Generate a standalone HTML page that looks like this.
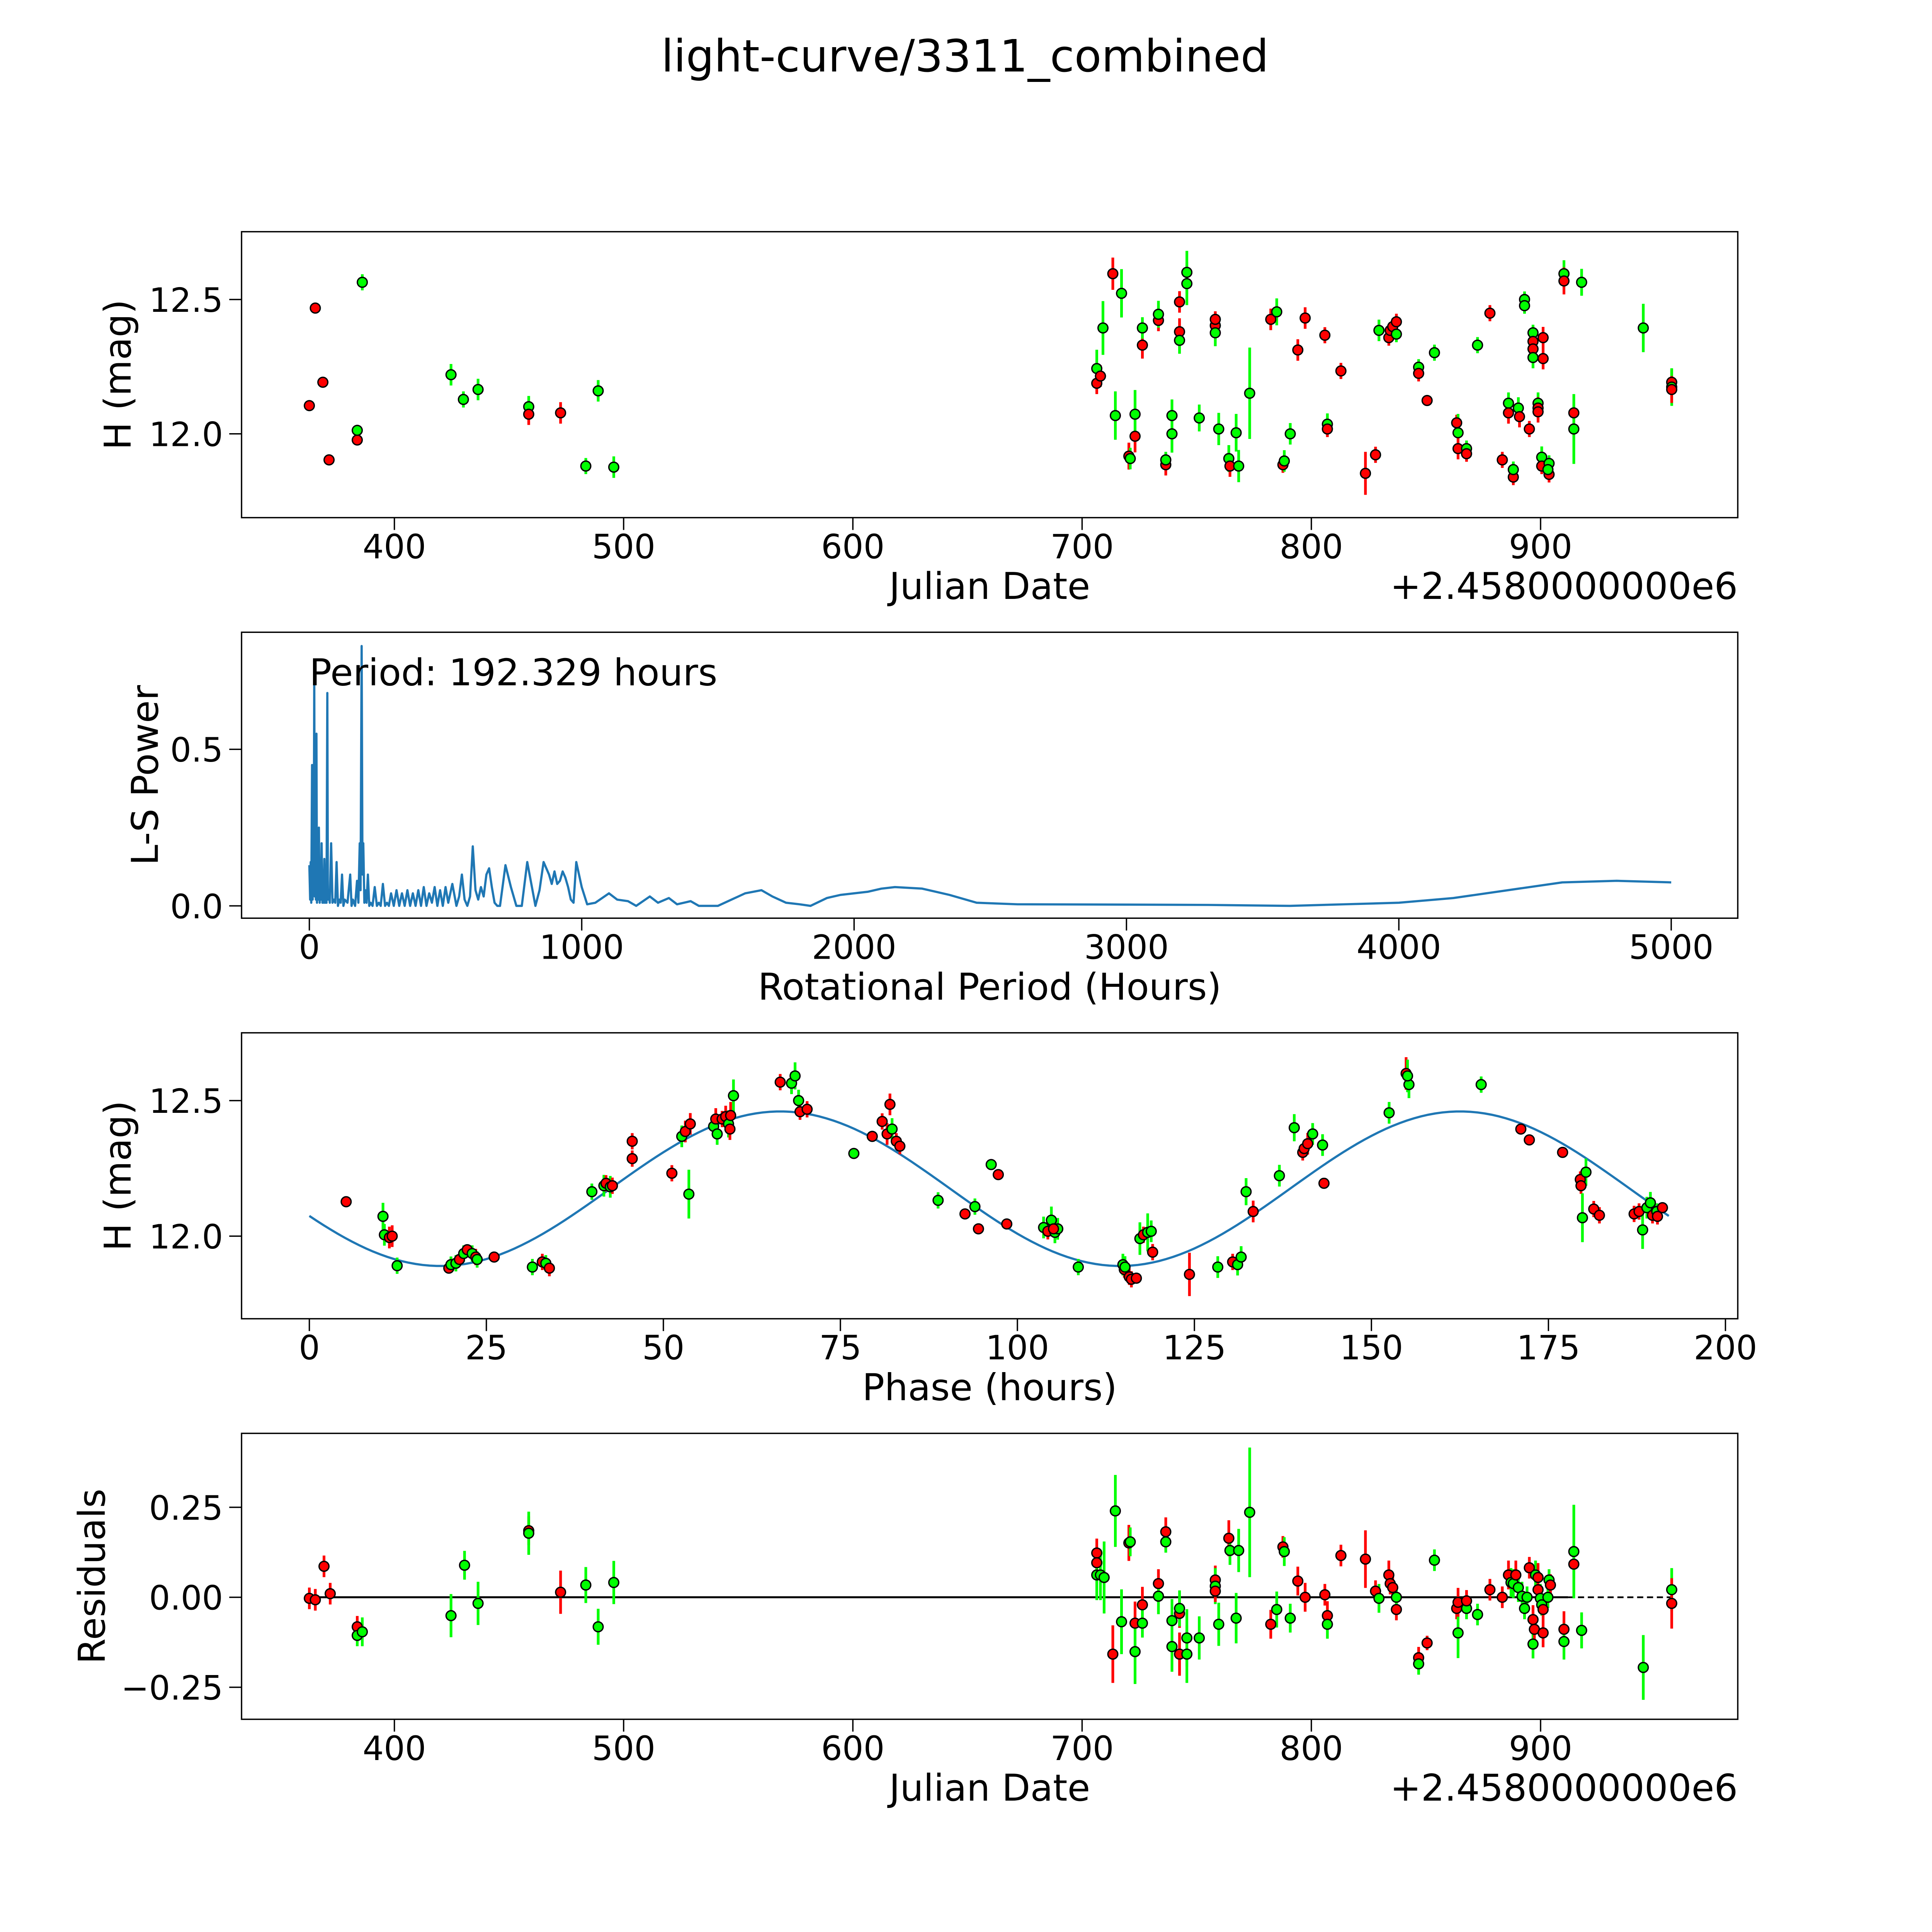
<!DOCTYPE html>
<html><head><meta charset="utf-8">
<style>
html,body{margin:0;padding:0;background:#fff;overflow:hidden;width:5400px;height:5400px;}
svg{display:block;overflow:hidden;font-family:"DejaVu Sans","Liberation Sans",sans-serif;}
</style></head>
<body>
<svg id="fig" width="5400" height="5400" viewBox="0 0 1693 1693" xmlns="http://www.w3.org/2000/svg">
<rect width="1693" height="1693" fill="#fff"/>
<text x="783" y="58" font-size="36" text-anchor="middle">light-curve/3311_combined</text>
<g id="layer"></g>
</svg>
<script>
// ---- Panel 1: light curve data ----
const lcJd = [362.9,365.5,368.8,371.5,383.8,383.8,386.0,424.7,430.1,436.5,458.6,458.6,472.5,483.5,488.9,495.7,
706.4,706.4,708.0,709.1,713.4,714.5,717.2,720.4,721.0,723.1,723.1,726.3,726.3,733.3,733.3,736.5,736.5,739.2,739.2,742.5,742.5,742.5,745.7,745.7,751.1,758.1,758.1,758.1,759.6,764.0,764.5,767.2,768.3,773.1,782.3,784.9,787.6,788.2,790.8,794.1,797.3,805.9,807.0,807.0,812.9,823.6,828.0,829.5,833.8,834.4,835.5,837.1,837.1,846.8,846.8,850.5,853.7,863.4,864.0,864.0,867.7,867.7,872.5,877.9,883.3,886.0,886.0,888.1,888.1,890.3,890.8,893.0,893.0,895.1,896.7,896.7,896.7,896.7,898.9,898.9,898.9,900.5,900.5,901.1,901.1,903.7,903.7,903.2,910.2,910.2,914.5,914.5,917.9,944.8,957.2,957.2,957.2];
const lcMag = [12.105,12.468,12.192,11.903,11.977,12.013,12.564,12.220,12.128,12.165,12.101,12.073,12.078,11.880,12.160,11.876,
12.243,12.188,12.215,12.394,12.596,12.068,12.523,11.917,11.908,11.991,12.073,12.330,12.394,12.422,12.445,11.885,11.903,12.068,12.000,12.491,12.380,12.348,12.601,12.559,12.059,12.403,12.376,12.426,12.018,11.908,11.880,12.004,11.880,12.151,12.426,12.454,11.885,11.899,12.000,12.312,12.431,12.367,12.036,12.018,12.234,11.853,11.922,12.385,12.358,12.385,12.399,12.417,12.371,12.248,12.225,12.124,12.302,12.041,12.004,11.945,11.945,11.926,12.330,12.449,11.903,12.114,12.078,11.839,11.867,12.096,12.064,12.500,12.477,12.018,12.376,12.344,12.316,12.284,12.114,12.096,12.082,11.913,11.880,12.358,12.280,11.890,11.849,11.867,12.596,12.569,12.078,12.018,12.564,12.394,12.192,12.174,12.165];
const lcErr = [.02,.02,.02,.02,.02,.02,.03,.04,.03,.04,.04,.04,.04,.03,.04,.04,
.07,.04,.04,.10,.06,.09,.09,.05,.04,.06,.09,.05,.04,.04,.05,.04,.03,.06,.07,.04,.05,.05,.08,.08,.05,.04,.05,.03,.06,.05,.04,.07,.06,.17,.04,.05,.03,.04,.04,.04,.04,.03,.04,.03,.03,.08,.03,.04,.03,.03,.03,.03,.03,.03,.03,.02,.03,.03,.07,.04,.03,.03,.03,.03,.03,.04,.04,.03,.03,.04,.04,.03,.03,.03,.03,.04,.04,.04,.04,.04,.04,.04,.03,.04,.04,.03,.03,.03,.05,.05,.04,.13,.05,.09,.05,.07,.05];
const lcColor = ["r","r","r","r","r","g","g","g","g","g","g","r","r","g","g","g",
"g","r","r","g","r","g","g","r","g","r","g","r","g","r","g","r","g","g","g","r","r","g","g","g","g","r","g","r","g","g","r","g","g","g","r","g","r","g","g","r","r","r","g","r","r","r","r","g","r","r","r","r","g","g","r","r","g","r","g","r","g","r","g","r","r","g","r","r","g","g","r","g","g","r","g","r","r","g","g","r","r","g","r","r","r","g","r","g","g","r","r","g","g","g","r","g","r"];

// ---- Panel 2: periodogram ----
const lsPeriod = [0,3,5,7,10,12,14,16,18,20,22,24,26,28,30,33,35,38,40,43,45,48,50,53,55,58,60,63,66,68,70,75,80,85,90,95,100,105,110,115,120,125,130,140,150,155,160,168,175,180,185,188,192,195,198,202,205,210,215,220,225,232,240,248,255,262,270,278,285,292,300,310,320,330,340,350,360,370,380,390,400,410,420,430,440,450,460,470,480,490,500,510,525,540,550,560,570,580,590,600,610,620,630,640,650,660,670,680,690,700,720,740,760,780,800,815,830,845,860,870,880,890,900,910,920,930,940,950,960,970,980,990,1000,1020,1050,1100,1130,1170,1200,1250,1280,1320,1350,1400,1430,1500,1550,1600,1660,1700,1750,1800,1840,1900,1950,2050,2100,2150,2250,2350,2450,2600,3000,3300,3600,3800,4000,4200,4400,4600,4800,5000];
const lsPower = [0.13,0.02,0.14,0.01,0.45,0.02,0.35,0.05,0.73,0.03,0.20,0.02,0.55,0.01,0.10,0.02,0.25,0.01,0.08,0.02,0.20,0.01,0.05,0.01,0.15,0.01,0.03,0.01,0.68,0.02,0.05,0.01,0.20,0.01,0.02,0.01,0.14,0.00,0.02,0.01,0.10,0.00,0.02,0.01,0.10,0.00,0.02,0.00,0.08,0.01,0.20,0.05,0.83,0.10,0.20,0.01,0.05,0.01,0.10,0.00,0.01,0.00,0.06,0.00,0.01,0.00,0.07,0.00,0.01,0.00,0.04,0.00,0.05,0.00,0.04,0.00,0.05,0.00,0.04,0.00,0.05,0.00,0.06,0.00,0.04,0.01,0.06,0.00,0.05,0.00,0.06,0.01,0.07,0.00,0.03,0.10,0.02,0.00,0.03,0.19,0.05,0.02,0.06,0.03,0.10,0.12,0.06,0.01,0.00,0.00,0.13,0.06,0.00,0.00,0.14,0.07,0.00,0.05,0.14,0.12,0.10,0.07,0.11,0.07,0.08,0.11,0.09,0.06,0.02,0.01,0.14,0.10,0.06,0.005,0.01,0.04,0.02,0.015,0.0,0.03,0.01,0.025,0.005,0.015,0.0,0.0,0.02,0.04,0.05,0.03,0.01,0.005,0.0,0.025,0.035,0.045,0.055,0.06,0.055,0.035,0.01,0.005,0.004,0.003,0.0,0.005,0.01,0.025,0.05,0.075,0.08,0.075];

// ---- Panel 3: phased data ----
const phHours = [5.2,10.4,10.6,11.3,11.7,12.4,19.7,20.0,20.7,21.2,21.8,22.3,23.0,23.5,23.7,26.1,31.5,32.9,33.4,33.9,39.9,41.6,41.9,42.5,42.8,45.6,45.6,51.2,52.6,53.1,53.8,53.6,57.1,57.4,57.6,58.3,58.8,59.2,59.4,59.5,59.9,66.5,68.1,68.6,69.1,69.3,70.3,76.9,79.5,80.9,81.6,82.0,82.3,82.9,83.4,88.8,92.6,94.0,94.5,96.3,97.3,98.5,103.7,104.3,104.8,105.3,105.7,105.1,108.6,114.9,115.1,115.2,115.8,116.1,116.8,117.3,117.8,118.4,118.9,119.1,124.3,128.3,130.4,131.1,131.6,132.3,133.3,137.0,139.1,140.3,140.5,141.0,141.7,143.1,143.3,152.5,154.9,155.3,155.1,165.5,171.1,172.3,177.0,179.5,179.6,179.8,180.3,181.4,182.2,187.1,187.8,188.3,188.9,189.4,189.7,190.3,191.1,190.4];
const phMag = [12.127,12.073,12.005,11.995,12.0,11.891,11.882,11.895,11.9,11.914,11.936,11.95,11.936,11.923,11.914,11.923,11.886,11.905,11.9,11.882,12.164,12.186,12.195,12.182,12.186,12.35,12.286,12.232,12.368,12.386,12.414,12.155,12.405,12.432,12.377,12.432,12.441,12.414,12.395,12.445,12.518,12.568,12.564,12.591,12.5,12.459,12.468,12.305,12.368,12.423,12.377,12.486,12.395,12.35,12.332,12.132,12.082,12.109,12.027,12.264,12.227,12.045,12.032,12.018,12.059,12.014,12.027,12.027,11.886,11.895,11.877,11.886,11.85,11.841,11.845,11.991,12.005,12.014,12.018,11.941,11.859,11.886,11.905,11.895,11.923,12.164,12.091,12.223,12.4,12.309,12.323,12.341,12.377,12.336,12.195,12.455,12.6,12.559,12.591,12.559,12.395,12.355,12.309,12.209,12.186,12.068,12.236,12.1,12.077,12.082,12.091,12.023,12.105,12.123,12.077,12.091,12.105,12.073];
const phErr = [.02,.05,.04,.04,.04,.03,.02,.03,.03,.02,.03,.02,.03,.03,.03,.02,.03,.03,.03,.03,.03,.04,.03,.04,.03,.03,.03,.03,.04,.04,.04,.09,.04,.04,.04,.03,.04,.05,.04,.05,.06,.03,.04,.05,.04,.03,.03,.02,.02,.03,.04,.04,.04,.03,.03,.03,.02,.03,.02,.02,.02,.02,.04,.03,.05,.04,.04,.03,.03,.04,.03,.04,.03,.03,.02,.06,.03,.07,.04,.03,.08,.04,.03,.04,.04,.05,.04,.04,.05,.03,.03,.04,.04,.04,.02,.04,.06,.05,.06,.03,.02,.02,.02,.03,.03,.09,.05,.03,.03,.03,.03,.07,.04,.04,.03,.03,.02,.03,.03];
const phColor = ["r","g","g","r","r","g","r","g","g","r","g","r","g","r","g","r","g","r","g","r","g","g","r","g","r","r","r","r","g","r","r","g","g","r","g","r","r","g","r","r","g","r","g","g","g","r","r","g","r","r","r","r","g","r","r","g","r","g","r","g","r","r","g","r","g","g","g","r","g","g","r","g","r","r","r","g","r","g","g","r","r","g","r","g","g","g","r","g","g","r","r","r","g","g","r","g","r","g","g","g","r","r","r","r","r","g","g","r","r","r","r","g","g","g","r","g","r","r"];
const modelMean = 12.175, modelAmp = 0.285, modelPeriod = 96, modelShift = 42.5;

// ---- Panel 4: residuals ----
const rsJd = [362.9,365.5,369.3,372.0,383.8,383.8,386.0,424.7,430.6,436.5,458.6,458.6,472.5,483.5,488.9,495.7,
706.4,706.4,706.4,708.0,709.6,713.4,714.5,717.2,720.4,721.0,723.1,723.1,726.3,726.3,733.3,733.3,736.5,736.5,739.2,739.2,742.5,742.5,742.5,745.7,745.7,751.1,758.1,758.1,758.1,759.6,764.0,764.5,767.2,768.3,773.1,782.3,784.9,787.6,788.2,790.8,794.1,797.3,805.9,807.0,807.0,812.9,823.6,828.0,829.5,833.8,834.4,835.5,837.1,837.1,846.8,846.8,850.5,853.7,863.4,864.0,864.0,867.7,867.7,872.5,877.9,883.3,886.0,887.1,888.1,889.2,890.3,891.9,893.0,894.1,895.1,896.7,896.7,897.3,897.8,898.9,898.9,899.9,900.5,901.1,901.1,903.2,903.7,904.3,910.2,910.2,914.5,914.5,917.9,944.8,957.2,957.2];
const rsVal = [-0.003,-0.007,0.086,0.010,-0.082,-0.106,-0.096,-0.051,0.089,-0.017,0.185,0.178,0.014,0.034,-0.082,0.041,
0.123,0.096,0.062,0.062,0.055,-0.158,0.240,-0.068,0.151,0.154,-0.072,-0.151,-0.021,-0.072,0.038,0.003,0.182,0.154,-0.065,-0.137,-0.045,-0.031,-0.158,-0.158,-0.113,-0.113,0.048,0.031,0.017,-0.075,0.164,0.130,-0.058,0.130,0.236,-0.075,-0.034,0.140,0.127,-0.058,0.045,0.0,0.007,-0.051,-0.075,0.116,0.106,0.017,-0.003,0.062,0.038,0.027,-0.034,0.0,-0.168,-0.185,-0.127,0.103,-0.031,-0.099,-0.014,-0.031,-0.010,-0.048,0.021,0.0,0.062,0.041,0.038,0.062,0.027,0.003,-0.031,0.0,0.082,-0.130,-0.062,-0.089,0.062,0.055,0.021,-0.003,-0.021,-0.099,-0.034,0.0,0.048,0.034,-0.089,-0.123,0.092,0.127,-0.092,-0.195,0.021,-0.017];
const rsErr = [.03,.03,.03,.03,.03,.03,.04,.06,.04,.06,.04,.06,.06,.05,.05,.06,
.04,.04,.07,.07,.1,.08,.1,.09,.05,.04,.06,.09,.05,.04,.04,.05,.04,.03,.06,.07,.04,.05,.06,.08,.08,.06,.04,.05,.03,.06,.05,.04,.07,.06,.18,.04,.05,.03,.04,.04,.04,.04,.03,.04,.04,.03,.08,.03,.04,.04,.03,.03,.03,.03,.03,.03,.02,.03,.03,.07,.04,.03,.03,.03,.03,.03,.04,.04,.04,.04,.04,.04,.03,.03,.03,.04,.04,.04,.04,.04,.04,.04,.03,.04,.04,.03,.03,.03,.05,.05,.04,.13,.05,.09,.06,.07];
const rsColor = ["r","r","r","r","r","g","g","g","g","g","r","g","r","g","g","g",
"r","r","g","g","g","r","g","g","r","g","r","g","r","g","r","g","r","g","g","g","r","g","r","g","g","g","r","g","r","g","r","g","g","g","g","r","g","r","g","g","r","r","r","r","g","r","r","r","g","r","r","r","r","g","r","g","r","g","r","g","r","g","r","g","r","r","r","g","g","r","g","g","g","g","r","g","r","r","g","r","r","g","g","r","r","g","g","r","r","g","r","g","g","g","g","r"];

const jdTicks = [400,500,600,700,800,900];
const hTicks = [12.0,12.5];
const lsXTicks = [0,1000,2000,3000,4000,5000];
const lsYTicks = [0.0,0.5];
const phXTicks = [0,25,50,75,100,125,150,175,200];
const rsTicks = [-0.25,0.0,0.25];

const NS = "http://www.w3.org/2000/svg";
const layer = document.getElementById('layer');
function mk(tag, attrs, parent){
  const e = document.createElementNS(NS, tag);
  for (const k in attrs) e.setAttribute(k, attrs[k]);
  (parent||layer).appendChild(e);
  return e;
}
const L = 196, R = 1410;
const FS = 27, FL = 30;
function lin(d0,d1,r0,r1){ return v => r0 + (v-d0)*(r1-r0)/(d1-d0); }
const COL = {r:"#ff0000", g:"#00ff00"};

function axes(name, top, bottom, sx, sy, xt, yt, xfmt, yfmt, xlabel, ylabel, ylabX){
  const g = mk('g',{});
  
  
  const fr = mk('rect',{x:L,y:top,width:R-L,height:bottom-top,fill:'none',stroke:'#000','stroke-width':1.1},g);
  
  
  xt.forEach(v=>{
    const x = sx(v);
    const t = mk('line',{x1:x,x2:x,y1:bottom,y2:bottom+10,stroke:'#000','stroke-width':1.1},g);
    
    
    const tx = mk('text',{x:x,y:bottom+33,'font-size':FS,'text-anchor':'middle'},g);
    
    
    tx.textContent = xfmt(v);
  });
  yt.forEach(v=>{
    const y = sy(v);
    const t = mk('line',{x1:L-10,x2:L,y1:y,y2:y,stroke:'#000','stroke-width':1.1},g);
    
    
    const tx = mk('text',{x:L-15,y:y+10,'font-size':FS,'text-anchor':'end'},g);
    
    
    tx.textContent = yfmt(v);
  });
  const xl = mk('text',{x:(L+R)/2,y:bottom+66,'font-size':FL,'text-anchor':'middle'},g);
  
  
  xl.textContent = xlabel;
  const cy=(top+bottom)/2;
  const yl = mk('text',{x:ylabX,y:cy,'font-size':FL,'text-anchor':'middle',transform:`rotate(-90 ${ylabX} ${cy})`},g);
  
  
  yl.textContent = ylabel;
  return g;
}
function points(g, xs, ys, es, cs, sx, sy, nm){
  const pg = mk('g',{},g);
  
  
  for(let i=0;i<xs.length;i++){
    const x=sx(xs[i]);
    const c = COL[cs[i]||'g'];
    const eb = mk('line',{x1:x,x2:x,y1:sy(ys[i]-es[i]),y2:sy(ys[i]+es[i]),stroke:c,'stroke-width':2.2},pg);
    
    
  }
  for(let i=0;i<xs.length;i++){
    const c = COL[cs[i]||'g'];
    const p = mk('circle',{cx:sx(xs[i]),cy:sy(ys[i]),r:4,fill:c,stroke:'#000','stroke-width':1.1},pg);
    
    
  }
}

// Panel 1
const jx = lin(400,900,320,1250);
const hy1 = lin(12.0,12.5,352,243);
const g1 = axes('light-curve-panel',188,420,jx,hy1,jdTicks,hTicks,v=>String(v),v=>v.toFixed(1),'Julian Date','H (mag)',106);
points(g1, lcJd, lcMag, lcErr, lcColor, jx, hy1, 'light-curve-points');
const off1 = mk('text',{x:R,y:486,'font-size':FL,'text-anchor':'end'},g1);


off1.textContent='+2.4580000000e6';

// Panel 2
const px2 = lin(0,5000,251,1356);
const py2 = lin(0,0.5,735,608);
const g2 = axes('periodogram-panel',513,745,px2,py2,lsXTicks,lsYTicks,v=>String(v),v=>v.toFixed(1),'Rotational Period (Hours)','L-S Power',128);
let d='';
lsPeriod.forEach((p,i)=>{ d += (i?'L':'M') + px2(p).toFixed(2)+' '+py2(lsPower[i]).toFixed(2)+' '; });
const ls = mk('path',{d:d,fill:'none',stroke:'#1f77b4','stroke-width':1.8,'stroke-linejoin':'round'},g2);


const pt = mk('text',{x:251,y:556,'font-size':FL},g2);


pt.textContent='Period: 192.329 hours';

// Panel 3
const px3 = lin(0,200,251,1400);
const py3 = lin(12.0,12.5,1003,893);
const g3 = axes('phase-panel',838,1070,px3,py3,phXTicks,hTicks,v=>String(v),v=>v.toFixed(1),'Phase (hours)','H (mag)',106);
let md='';
for(let k=0;k<=192;k++){
  const ph = k;
  const m = modelMean + modelAmp*Math.sin(2*Math.PI*(ph-modelShift)/modelPeriod);
  md += (k?'L':'M')+px3(ph).toFixed(2)+' '+py3(m).toFixed(2)+' ';
}
const ml = mk('path',{d:md,fill:'none',stroke:'#1f77b4','stroke-width':1.8},g3);


points(g3, phHours, phMag, phErr, phColor, px3, py3, 'phased-points');

// Panel 4
const ry = lin(0,0.25,1296,1223);
const g4 = axes('residuals-panel',1163,1395,jx,ry,jdTicks,rsTicks,v=>String(v),v=>(v<0?'\u2212':'')+Math.abs(v).toFixed(2),'Julian Date','Residuals',85);
const z1 = mk('line',{x1:jx(362.9),x2:jx(912),y1:ry(0),y2:ry(0),stroke:'#000','stroke-width':1.6},g4);


const z2 = mk('line',{x1:jx(912),x2:jx(957.2),y1:ry(0),y2:ry(0),stroke:'#000','stroke-width':1.4,'stroke-dasharray':'5 3'},g4);


points(g4, rsJd, rsVal, rsErr, rsColor, jx, ry, 'residual-points');
const off4 = mk('text',{x:R,y:1461,'font-size':FL,'text-anchor':'end'},g4);


off4.textContent='+2.4580000000e6';
</script>
</body></html>
